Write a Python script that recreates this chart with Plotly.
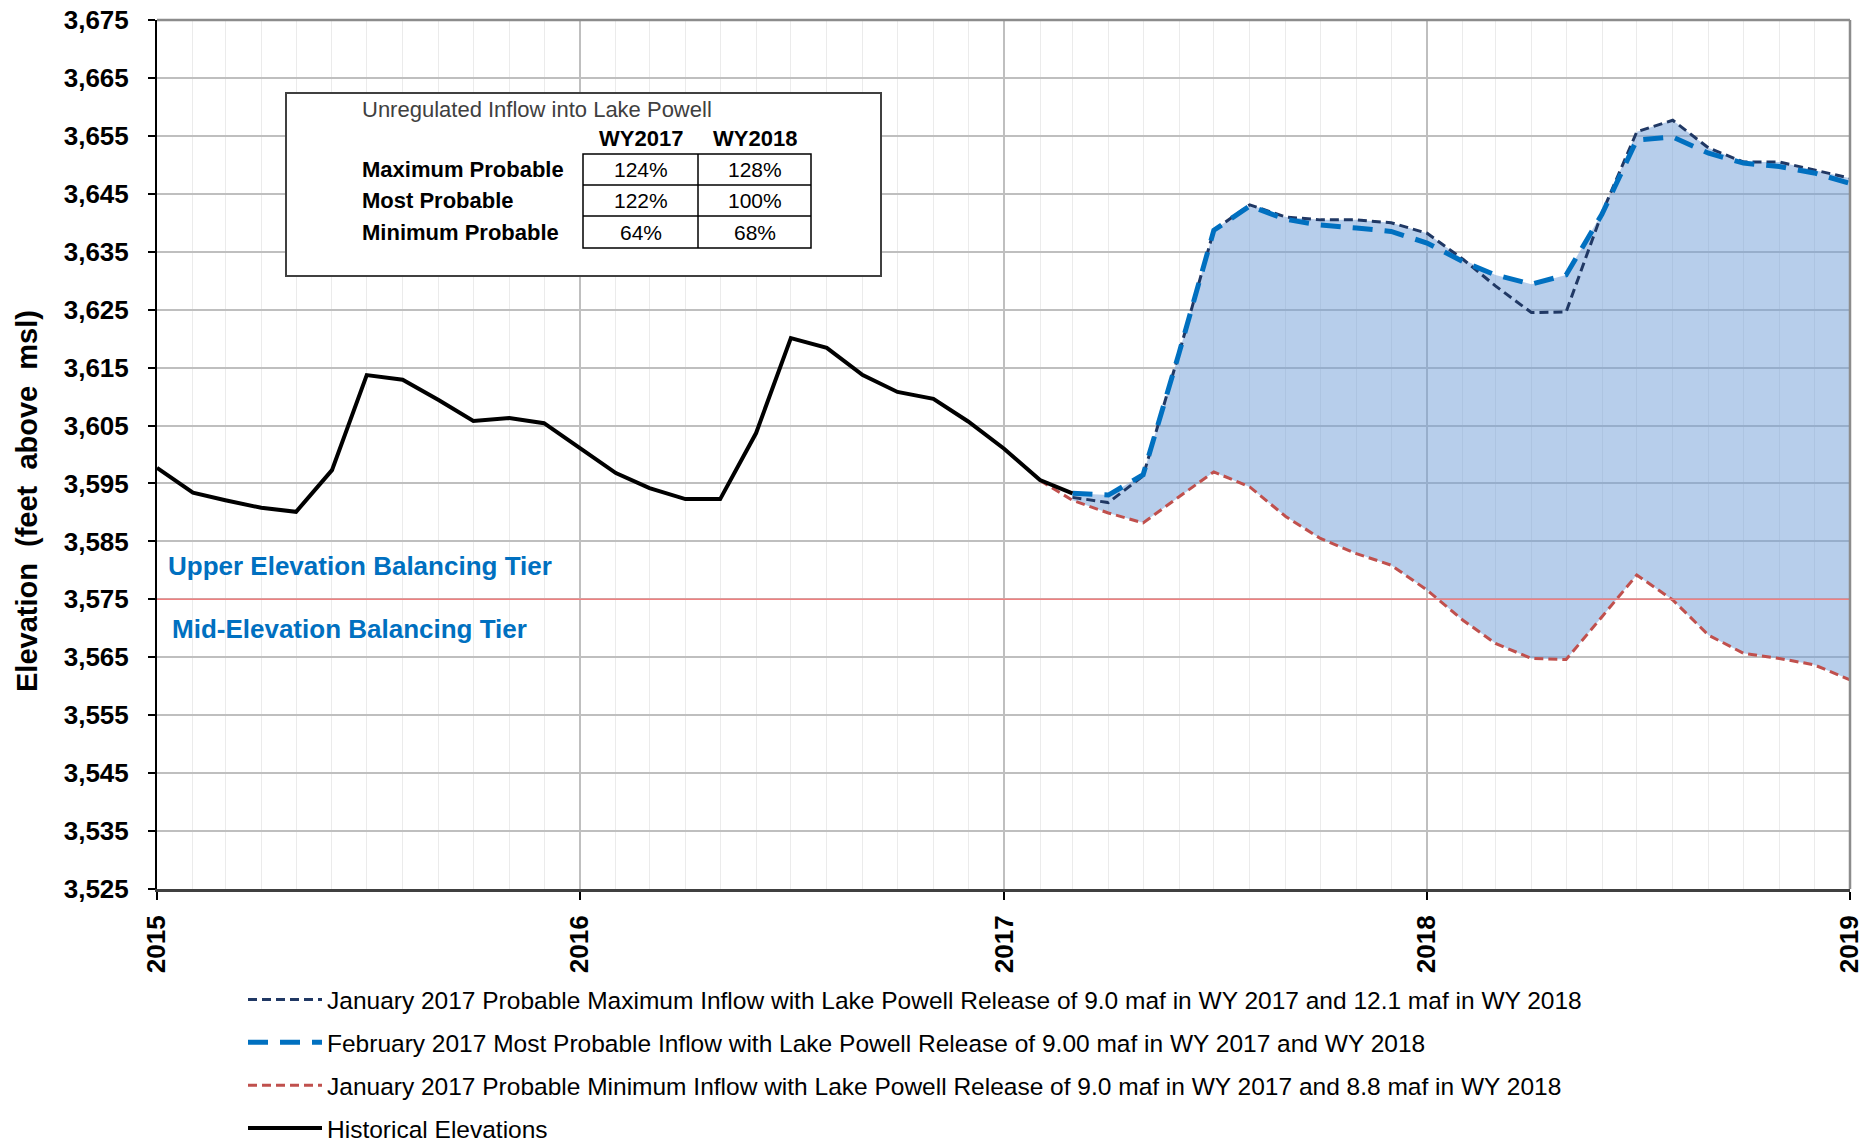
import pandas as pd
import plotly.graph_objects as go

# ---------------- data ----------------
hist_dates = pd.date_range("2015-01-01", periods=27, freq="MS")
hist_elev = [3597.7, 3593.4, 3592.1, 3590.8, 3590.1, 3597.3, 3613.7, 3612.9, 3609.4,
             3605.8, 3606.3, 3605.4, 3601.1, 3596.8, 3594.2, 3592.3, 3592.3, 3603.7,
             3620.1, 3618.4, 3613.7, 3610.8, 3609.6, 3605.7, 3601.0, 3595.6, 3593.3]

proj_dates = pd.date_range("2017-02-01", periods=24, freq="MS")
max_prob = [None, 3592.6, 3591.7, 3596.3, 3617.5, 3638.7, 3643.1, 3641.0, 3640.5, 3640.5,
            3640.0, 3638.2, 3633.7, 3629.1, 3624.5, 3624.6, 3641.7, 3655.7, 3657.7,
            3652.9, 3650.5, 3650.5, 3649.1, 3647.7]
most_prob = [None, 3593.3, 3593.0, 3596.5, 3617.5, 3638.7, 3642.9, 3640.6, 3639.6, 3639.1,
             3638.5, 3636.5, 3633.3, 3631.0, 3629.4, 3631.0, 3641.5, 3654.3, 3654.8,
             3652.0, 3650.3, 3649.7, 3648.6, 3646.8]
min_prob = [3595.5, 3592.1, 3589.9, 3588.2, 3592.7, 3597.0, 3594.4, 3589.3, 3585.5, 3582.9,
            3580.9, 3576.6, 3571.4, 3567.4, 3564.8, 3564.6, 3572.0, 3579.2, 3574.9,
            3568.8, 3565.7, 3564.8, 3563.7, 3561.1]

tier_elev = 3575
tier_labels = ["Upper Elevation Balancing Tier", "Mid-Elevation Balancing Tier"]

series_names = [
    "January 2017 Probable Maximum Inflow with Lake Powell Release of 9.0 maf in WY 2017 and 12.1 maf in WY 2018",
    "February 2017 Most Probable Inflow with Lake Powell Release of 9.00 maf in WY 2017 and WY 2018",
    "January 2017 Probable Minimum Inflow with Lake Powell Release of 9.0 maf in WY 2017 and 8.8 maf in WY 2018",
    "Historical Elevations",
]

table_title = "Unregulated Inflow into Lake Powell"
table_cols = ["WY2017", "WY2018"]
table_rows = ["Maximum Probable", "Most Probable", "Minimum Probable"]
table_vals = [["124%", "128%"], ["122%", "100%"], ["64%", "68%"]]

y_min, y_max, y_step = 3525, 3675, 10
x_start, x_end = "2015-01-01", "2019-01-01"

# ---------------- layout geometry ----------------
# page body has an 8px margin, so the figure is made 8px smaller on each axis
OFF = 8
W, H = 1868 - OFF, 1143 - OFF
L, R, T, B = 157 - OFF, 18, 20 - OFF, 254
PW, PH = W - L - R, H - T - B
PLOT_LEFT, PLOT_BOTTOM = 157, 889  # on-screen pixels
FONT = "Arial, Liberation Sans, sans-serif"


def px(x):
    return (x - PLOT_LEFT) / PW


def py(y):
    return (PLOT_BOTTOM - y) / PH


fig = go.Figure()

# shaded envelope between min and max(max, most)
env_idx = [i for i in range(len(proj_dates)) if max_prob[i] is not None]
env_dates = [proj_dates[i] for i in env_idx]
env_low = [min_prob[i] for i in env_idx]
env_high = [max(max_prob[i], most_prob[i]) for i in env_idx]
fig.add_trace(go.Scatter(x=env_dates, y=env_low, mode="lines", line=dict(width=0),
                         showlegend=False, hoverinfo="skip", legendgroup="z"))
fig.add_trace(go.Scatter(x=env_dates, y=env_high, mode="lines", line=dict(width=0),
                         fill="tonexty", fillcolor="rgba(112,158,215,0.5)",
                         showlegend=False, hoverinfo="skip", legendgroup="z"))

fig.add_trace(go.Scatter(x=proj_dates, y=max_prob, mode="lines", name=series_names[0],
                         legendgroup="a",
                         line=dict(color="#203864", width=3, dash="9px,5px")))
fig.add_trace(go.Scatter(x=proj_dates, y=most_prob, mode="lines", name=series_names[1],
                         legendgroup="b",
                         line=dict(color="#0070C0", width=5, dash="20px,12px")))
fig.add_trace(go.Scatter(x=proj_dates, y=min_prob, mode="lines", name=series_names[2],
                         legendgroup="c",
                         line=dict(color="#C0504D", width=3, dash="9px,5px")))
fig.add_trace(go.Scatter(x=hist_dates, y=hist_elev, mode="lines", name=series_names[3],
                         legendgroup="d",
                         line=dict(color="black", width=4)))

shapes = []
# tier line
shapes.append(dict(type="line", xref="paper", yref="y", x0=0, x1=1, y0=tier_elev, y1=tier_elev,
                   line=dict(color="#F08080", width=1.5), layer="above"))
# top and right border
shapes.append(dict(type="line", xref="paper", yref="paper", x0=0, x1=1, y0=1, y1=1,
                   line=dict(color="#8C8C8C", width=2.5), layer="above"))
shapes.append(dict(type="line", xref="paper", yref="paper", x0=1, x1=1, y0=0, y1=1,
                   line=dict(color="#8C8C8C", width=2.5), layer="above"))
# table box
shapes.append(dict(type="rect", xref="paper", yref="paper", x0=px(286), x1=px(881),
                   y0=py(276), y1=py(93), line=dict(color="#404040", width=2),
                   fillcolor="white", layer="above"))
# table cells
cell_x = [583, 698, 811]
cell_y = [154, 185, 216, 248]
shapes.append(dict(type="rect", xref="paper", yref="paper", x0=px(cell_x[0]), x1=px(cell_x[-1]),
                   y0=py(cell_y[-1]), y1=py(cell_y[0]), line=dict(color="black", width=1.5),
                   layer="above"))
shapes.append(dict(type="line", xref="paper", yref="paper", x0=px(cell_x[1]), x1=px(cell_x[1]),
                   y0=py(cell_y[-1]), y1=py(cell_y[0]), line=dict(color="black", width=1.5),
                   layer="above"))
for yy in cell_y[1:-1]:
    shapes.append(dict(type="line", xref="paper", yref="paper", x0=px(cell_x[0]), x1=px(cell_x[-1]),
                       y0=py(yy), y1=py(yy), line=dict(color="black", width=1.5), layer="above"))

ann = []
ann.append(dict(xref="paper", yref="paper", x=px(360), y=py(110), xanchor="left", yanchor="middle",
                text=table_title, showarrow=False,
                font=dict(family=FONT, size=22, color="#404040")))
col_cx = [(cell_x[0] + cell_x[1]) / 2, (cell_x[1] + cell_x[2]) / 2]
for j, c in enumerate(table_cols):
    ann.append(dict(xref="paper", yref="paper", x=px(col_cx[j]), y=py(139), xanchor="center",
                    yanchor="middle", text=c, showarrow=False,
                    font=dict(family=FONT, size=22, color="black", weight="bold")))
for i, r in enumerate(table_rows):
    cy = (cell_y[i] + cell_y[i + 1]) / 2
    ann.append(dict(xref="paper", yref="paper", x=px(360), y=py(cy), xanchor="left",
                    yanchor="middle", text=r, showarrow=False,
                    font=dict(family=FONT, size=22, color="black", weight="bold")))
    for j in range(2):
        ann.append(dict(xref="paper", yref="paper", x=px(col_cx[j]), y=py(cy), xanchor="center",
                        yanchor="middle", text=table_vals[i][j], showarrow=False,
                        font=dict(family=FONT, size=21, color="black")))

# tier labels
ann.append(dict(xref="paper", yref="paper", x=px(166), y=py(566), xanchor="left", yanchor="middle",
                text=tier_labels[0], showarrow=False,
                font=dict(family=FONT, size=26, color="#0070C0", weight="bold")))
ann.append(dict(xref="paper", yref="paper", x=px(170), y=py(629), xanchor="left", yanchor="middle",
                text=tier_labels[1], showarrow=False,
                font=dict(family=FONT, size=26, color="#0070C0", weight="bold")))

# y title
ann.append(dict(xref="paper", yref="paper", x=px(27), y=py(501), xanchor="center", yanchor="middle",
                text="Elevation\u00a0 (feet\u00a0 above\u00a0 msl)", textangle=-90, showarrow=False,
                font=dict(family=FONT, size=29, color="black", weight="bold")))

fig.update_layout(
    width=W, height=H, autosize=False,
    margin=dict(l=L, r=R, t=T, b=B, pad=0, autoexpand=False),
    paper_bgcolor="white", plot_bgcolor="white",
    shapes=shapes, annotations=ann,
    showlegend=True,
    legend=dict(x=px(243), y=py(977), xanchor="left", yanchor="top",
                font=dict(family=FONT, size=24.5, color="black"),
                bgcolor="rgba(0,0,0,0)", tracegroupgap=8, itemwidth=74,
                traceorder="grouped"),
)

fig.update_yaxes(
    range=[y_min, y_max], tick0=y_min, dtick=y_step, tickformat=",d",
    automargin=False, ticklabeloverflow="allow",
    showgrid=True, gridcolor="#BFBFBF", gridwidth=1.5, zeroline=False,
    showline=True, linecolor="black", linewidth=2,
    ticks="outside", ticklen=7, tickwidth=2, tickcolor="black",
    ticklabelstandoff=14,
    tickfont=dict(family=FONT, size=26, color="black", weight="bold"),
)
fig.update_xaxes(
    type="date", range=[x_start, x_end], tick0=x_start, dtick="M12", tickformat="%Y",
    tickangle=-90, automargin=False, ticklabeloverflow="allow",
    showgrid=True, gridcolor="#BFBFBF", gridwidth=1.5, zeroline=False,
    showline=True, linecolor="#404040", linewidth=3,
    ticks="outside", ticklen=8, tickwidth=2, tickcolor="black",
    ticklabelstandoff=5,
    tickfont=dict(family=FONT, size=26, color="black", weight="bold"),
    minor=dict(tick0=x_start, dtick="M1", showgrid=True, gridcolor="#EBEBEB", gridwidth=1),
)

fig.write_html("out.html")
